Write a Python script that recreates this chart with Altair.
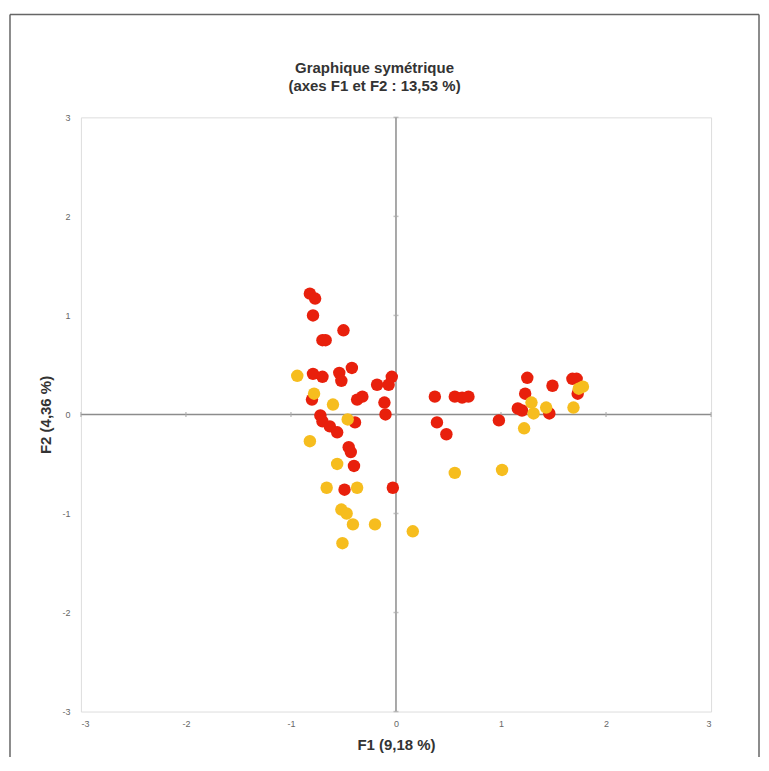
import altair as alt
import pandas as pd

# Red points (F1, F2)
red_f1 = [-0.82, -0.77, -0.79, -0.50, -0.70, -0.67, -0.42, -0.79, -0.70, -0.54, -0.52, -0.18, -0.04,
          -0.07, -0.37, -0.32, -0.80, -0.11, -0.10, -0.72, -0.70, -0.63, -0.56, -0.39, -0.45, -0.43,
          -0.40, -0.49, -0.03, 0.37, 0.56, 0.63, 0.69, 0.39, 0.48, 0.98, 1.25, 1.23, 1.16, 1.20, 1.49,
          1.68, 1.72, 1.73, 1.46]
red_f2 = [1.22, 1.17, 1.00, 0.85, 0.75, 0.75, 0.47, 0.41, 0.38, 0.42, 0.34, 0.30, 0.38,
          0.30, 0.15, 0.18, 0.15, 0.12, 0.00, -0.01, -0.07, -0.12, -0.18, -0.08, -0.33, -0.38,
          -0.52, -0.76, -0.74, 0.18, 0.18, 0.17, 0.18, -0.08, -0.20, -0.06, 0.37, 0.21, 0.06, 0.04, 0.29,
          0.36, 0.36, 0.21, 0.01]

# Yellow points (F1, F2)
yel_f1 = [-0.94, -0.78, -0.60, -0.46, -0.82, -0.56, -0.66, -0.37, -0.52, -0.47, -0.41, -0.20,
          -0.51, 0.16, 0.56, 1.01, 1.29, 1.31, 1.43, 1.22, 1.69, 1.78, 1.74]
yel_f2 = [0.39, 0.21, 0.10, -0.05, -0.27, -0.50, -0.74, -0.74, -0.96, -1.00, -1.11, -1.11,
          -1.30, -1.18, -0.59, -0.56, 0.12, 0.01, 0.07, -0.14, 0.07, 0.28, 0.26]

ticks = [-3, -2, -1, 0, 1, 2, 3]
title_lines = ["Graphique symétrique", "(axes F1 et F2 : 13,53 %)"]

red_df = pd.DataFrame({"F1": red_f1, "F2": red_f2})
yel_df = pd.DataFrame({"F1": yel_f1, "F2": yel_f2})
tick_df = pd.DataFrame({"v": ticks})

FONT = "Liberation Sans"
xs = alt.Scale(domain=[-3, 3], nice=False)
ys = alt.Scale(domain=[-3, 3], nice=False)
LBL = "datum.value < 0 ? '-' + abs(datum.value) : '' + datum.value"

xaxis = alt.Axis(values=ticks, labelExpr=LBL, title="F1 (9,18 %)", grid=False, domain=False, ticks=False,
                 labelFontSize=9, labelColor="#666", labelPadding=8, labelFont=FONT,
                 titleFont=FONT, titleFontSize=15, titleFontWeight="bold", titleColor="#333",
                 titlePadding=9)
yaxis = alt.Axis(values=ticks, labelExpr=LBL, title="F2 (4,36 %)", grid=False, domain=False, ticks=False,
                 labelFontSize=9, labelColor="#666", labelPadding=11, labelFont=FONT,
                 titleFont=FONT, titleFontSize=15, titleFontWeight="bold", titleColor="#333",
                 titlePadding=8)

vline = alt.Chart(pd.DataFrame({"x": [0]})).mark_rule(color="#8c8c8c", strokeWidth=1.5).encode(
    x=alt.X("x:Q", scale=xs, axis=xaxis))
hline = alt.Chart(pd.DataFrame({"y": [0]})).mark_rule(color="#8c8c8c", strokeWidth=1.5).encode(
    y=alt.Y("y:Q", scale=ys, axis=yaxis))

vticks = alt.Chart(tick_df).mark_tick(orient="horizontal", size=5, color="#aaa", thickness=1.5).encode(
    x=alt.datum(0), y=alt.Y("v:Q", scale=ys))
hticks = alt.Chart(tick_df).mark_tick(orient="vertical", size=5, color="#aaa", thickness=1.5).encode(
    y=alt.datum(0), x=alt.X("v:Q", scale=xs))

red = alt.Chart(red_df).mark_circle(size=155, color="#e8200c", opacity=1).encode(
    x=alt.X("F1:Q", scale=xs), y=alt.Y("F2:Q", scale=ys))
yel = alt.Chart(yel_df).mark_circle(size=155, color="#f6bd1e", opacity=1).encode(
    x=alt.X("F1:Q", scale=xs), y=alt.Y("F2:Q", scale=ys))

# chart title as text (two lines)
t1 = alt.Chart(pd.DataFrame({"t": [title_lines[0]]})).mark_text(
    font=FONT, fontSize=15, fontWeight="bold", color="#333", align="center", baseline="middle").encode(
    text="t:N", x=alt.value(294), y=alt.value(-49))
t2 = alt.Chart(pd.DataFrame({"t": [title_lines[1]]})).mark_text(
    font=FONT, fontSize=15, fontWeight="bold", color="#333", align="center", baseline="middle").encode(
    text="t:N", x=alt.value(294), y=alt.value(-31))

# outer frame around the whole figure
box_color = "#666"
box_left = alt.Chart(pd.DataFrame({"a": [0]})).mark_rule(color=box_color, strokeWidth=1.5).encode(
    x=alt.value(-71), y=alt.value(-103), y2=alt.value(700))
box_top = alt.Chart(pd.DataFrame({"a": [0]})).mark_rule(color=box_color, strokeWidth=1.5).encode(
    x=alt.value(-71), x2=alt.value(679), y=alt.value(-103))
box_right = alt.Chart(pd.DataFrame({"a": [0]})).mark_rule(color=box_color, strokeWidth=1.5).encode(
    x=alt.value(679), y=alt.value(-103), y2=alt.value(700))

chart = alt.layer(vline, hline, vticks, hticks, red, yel, t1, t2, box_left, box_top, box_right).properties(
    width=631, height=595,
    autosize=alt.AutoSizeParams(type="none"),
    padding={"left": 73, "top": 109, "right": 50, "bottom": 45},
).configure_view(stroke="#bdbdbd", strokeWidth=2).configure(background="white")

chart.save("out.html", embed_options={"renderer": "svg", "actions": False})
